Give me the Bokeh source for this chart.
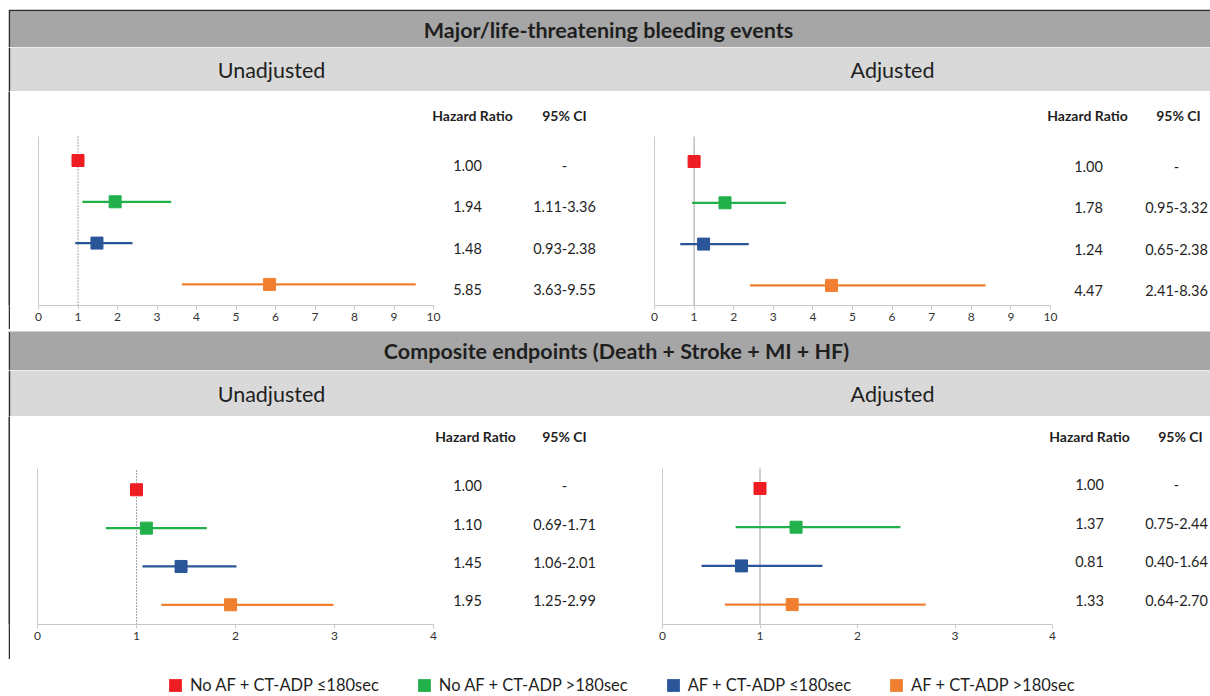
from bokeh.plotting import figure
from bokeh.layouts import column, row
from bokeh.models import Range1d, FixedTicker, ColumnDataSource, Legend, LegendItem
from bokeh.core.properties import value
from bokeh.embed import file_html
from bokeh.resources import INLINE

NAN = float("nan")

# ---------------- data ----------------
groups = ["No AF + CT-ADP ≤180sec", "No AF + CT-ADP >180sec",
          "AF + CT-ADP ≤180sec", "AF + CT-ADP >180sec"]
colors = ["#EE1D23", "#22B04B", "#2A5699", "#F0802F"]

bleed_unadj_hr = [1.00, 1.94, 1.48, 5.85]
bleed_unadj_lo = [NAN, 1.11, 0.93, 3.63]
bleed_unadj_hi = [NAN, 3.36, 2.38, 9.55]

bleed_adj_hr = [1.00, 1.78, 1.24, 4.47]
bleed_adj_lo = [NAN, 0.95, 0.65, 2.41]
bleed_adj_hi = [NAN, 3.32, 2.38, 8.36]

comp_unadj_hr = [1.00, 1.10, 1.45, 1.95]
comp_unadj_lo = [NAN, 0.69, 1.06, 1.25]
comp_unadj_hi = [NAN, 1.71, 2.01, 2.99]

comp_adj_hr = [1.00, 1.37, 0.81, 1.33]
comp_adj_lo = [NAN, 0.75, 0.40, 0.64]
comp_adj_hi = [NAN, 2.44, 1.64, 2.70]

bleed_title = "Major/life-threatening bleeding events"
comp_title = "Composite endpoints (Death + Stroke + MI + HF)"
sub_titles = ["Unadjusted", "Adjusted"]
col_headers = ["Hazard Ratio", "95% CI"]

# ---------------- style ----------------
FONT = "Lato"
DARK = "#2E2E2E"
BANNER = "#A6A6A6"
SUBBANNER = "#D9D9D9"
TXT = "#1F1F1F"
W = 1202          # framed area width (page x 8 .. 1210)


def base_fig(w, h, **kw):
    p = figure(width=w, height=h, output_backend="svg", toolbar_location=None,
               min_border=0, x_axis_location=None, y_axis_location=None, **kw)
    p.grid.visible = False
    p.outline_line_color = None
    return p


def solid(w, h, color):
    return base_fig(w, h, x_range=Range1d(0, 1), y_range=Range1d(0, 1),
                    background_fill_color=color, border_fill_color=color)


def banner(text, h, top, fill, font_size, bold, xs):
    p = base_fig(W, h, x_range=Range1d(0, W - 2), y_range=Range1d(0, 1),
                 background_fill_color=fill, border_fill_color=DARK)
    p.min_border_left = 2
    p.min_border_top = top
    p.text(x=xs, y=[0.5] * len(text), text=text, text_align="center",
           text_baseline="middle", text_font=value(FONT),
           text_font_size=font_size, text_color=TXT,
           text_font_style="bold" if bold else "normal")
    return p


def panel(hr, lo, hi, xmax, dotted, L):
    fig_w, fig_h = L["w"], L["h"]
    left, bottom = L["left"], L["bottom"]
    ppu, rowpx = L["ppu"], L["rowpx"]
    frame_w = fig_w - left
    frame_h = fig_h - bottom
    y_end = 4 + L["top_row"] / rowpx
    y_start = y_end - frame_h / rowpx

    def ux(px):
        return (px - left) / ppu

    def uy(py):
        return y_end - py / rowpx

    p = figure(width=fig_w, height=fig_h, output_backend="svg", toolbar_location=None,
               x_range=Range1d(0, frame_w / ppu), y_range=Range1d(y_start, y_end),
               min_border_left=left, min_border_right=0, min_border_top=0,
               min_border_bottom=bottom)
    p.grid.visible = False
    p.outline_line_color = None
    axis_top = uy(L["axis_top"])

    xa = p.xaxis[0]
    xa.ticker = FixedTicker(ticks=list(range(0, xmax + 1)))
    xa.bounds = (0, xmax)
    xa.axis_line_color = "#C8C8C8"
    xa.major_tick_line_color = "#C8C8C8"
    xa.major_tick_out = 4
    xa.major_tick_in = 0
    xa.minor_tick_line_color = None
    xa.major_label_standoff = 3
    xa.major_label_text_font = FONT
    xa.major_label_text_font_size = "12px"
    xa.major_label_text_color = "#333333"

    ya = p.yaxis[0]
    ya.ticker = FixedTicker(ticks=[])
    ya.bounds = (y_start, axis_top)
    ya.axis_line_color = "#C8C8C8"
    ya.major_tick_line_color = None
    ya.minor_tick_line_color = None
    ya.major_label_text_font_size = "0px"

    n = len(hr)
    ys = [n - i for i in range(n)]
    src = ColumnDataSource(dict(
        y=ys, hr=hr, lo=lo, hi=hi, color=colors,
        hr_txt=[f"{v:.2f}" for v in hr],
        ci_txt=["-" if a != a else f"{a:.2f}-{b:.2f}" for a, b in zip(lo, hi)],
    ))

    # reference line at HR = 1
    if dotted:
        p.segment(x0=[1], x1=[1], y0=[y_start], y1=[axis_top],
                  line_color="#505050", line_width=1, line_dash="1 2")
    else:
        p.segment(x0=[1], x1=[1], y0=[y_start], y1=[axis_top],
                  line_color="#A0A0A0", line_width=1)

    p.segment(x0="lo", x1="hi", y0="y", y1="y", line_color="color",
              line_width=2.2, source=src)
    p.scatter(x="hr", y="y", marker="square", size=12, fill_color="color",
              line_color="color", source=src)

    p.text(x=ux(L["hr_col"]), y="y", text="hr_txt", source=src,
           text_align="center", text_baseline="middle", y_offset=L["dy"],
           text_font=value(FONT), text_font_size="14.5px", text_color=TXT)
    p.text(x=ux(L["ci_col"]), y="y", text="ci_txt", source=src,
           text_align="center", text_baseline="middle", y_offset=L["dy"],
           text_font=value(FONT), text_font_size="14.5px", text_color=TXT)
    p.text(x=[ux(L["hdr_hr"]), ux(L["hdr_ci"])], y=[uy(L["header"])] * 2,
           text=col_headers, text_align="center", text_baseline="middle",
           text_font=value(FONT), text_font_size="14px",
           text_font_style="bold", text_color=TXT)
    return p


# panel layouts: pixel positions relative to each panel's own top-left corner
TL = dict(w=600, h=238, left=28, bottom=24, ppu=39.5, rowpx=41.3, top_row=69,
          axis_top=45, header=24, hr_col=457, ci_col=554, hdr_hr=462, hdr_ci=554, dy=5)
TR = dict(w=600, h=238, left=44, bottom=24, ppu=39.6, rowpx=41.3, top_row=70,
          axis_top=45, header=24, hr_col=478, ci_col=566, hdr_hr=477, hdr_ci=568, dy=5)
BL = dict(w=600, h=243, left=27, bottom=33, ppu=99.0, rowpx=38.7, top_row=74,
          axis_top=53, header=20, hr_col=457, ci_col=554, hdr_hr=465, hdr_ci=554, dy=-4)
BR = dict(w=600, h=243, left=52, bottom=35, ppu=97.5, rowpx=38.7, top_row=72,
          axis_top=52, header=20, hr_col=479, ci_col=566, hdr_hr=479, hdr_ci=570, dy=-4)

p_tl = panel(bleed_unadj_hr, bleed_unadj_lo, bleed_unadj_hi, 10, True, TL)
p_tr = panel(bleed_adj_hr, bleed_adj_lo, bleed_adj_hi, 10, False, TR)
p_bl = panel(comp_unadj_hr, comp_unadj_lo, comp_unadj_hi, 4, True, BL)
p_br = panel(comp_adj_hr, comp_adj_lo, comp_adj_hi, 4, False, BR)

b1 = banner([bleed_title], 38, 2, BANNER, "21.5px", True, [598])
s1 = banner(sub_titles, 44, 0, SUBBANNER, "21.5px", False, [261, 882])
b2 = banner([comp_title], 39, 0, BANNER, "21.5px", True, [606])
s2 = banner(sub_titles, 46, 0, SUBBANNER, "21.5px", False, [261, 882])

# legend
lg = base_fig(W, 35, x_range=Range1d(0, 1), y_range=Range1d(0, 1))
items = []
for g, c in zip(groups, colors):
    r = lg.quad(left=[NAN], right=[NAN], top=[NAN], bottom=[NAN],
                fill_color=c, line_color=None)
    items.append(LegendItem(label=g, renderers=[r]))
legend = Legend(items=items, orientation="horizontal", location=(157, 1),
                glyph_width=16, glyph_height=16, label_standoff=7, spacing=37,
                padding=0, margin=0, border_line_color=None,
                background_fill_alpha=0, label_text_font=FONT,
                label_text_font_size="16.5px", label_text_color=TXT,
                label_text_baseline="middle")
lg.add_layout(legend)

framed = column(
    solid(W, 9, "white"),
    b1, s1,
    row(solid(2, 238, DARK), p_tl, p_tr),
    solid(W, 2, DARK),
    b2, s2,
    row(solid(2, 243, DARK), p_bl, p_br),
    solid(W, 2, DARK),
    lg,
)
page = row(solid(8, 696, "white"), framed)

open("out.html", "w").write(file_html(page, INLINE))
